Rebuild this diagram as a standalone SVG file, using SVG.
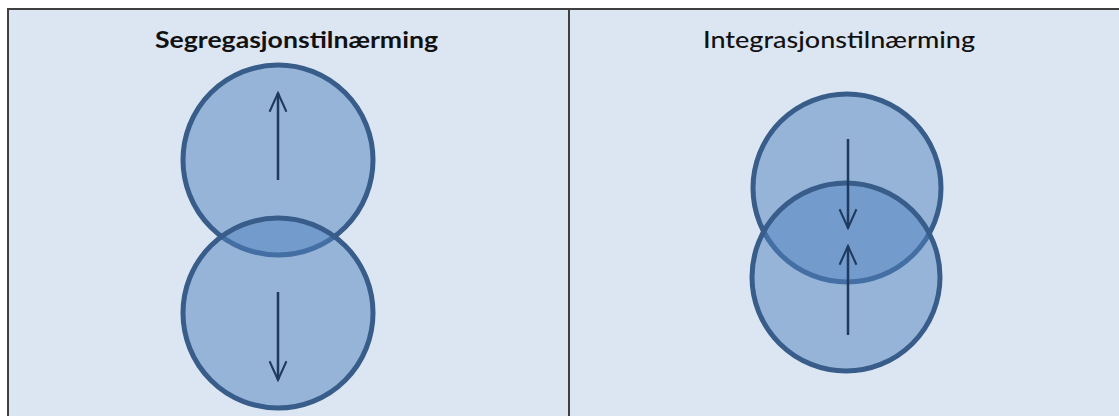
<svg xmlns="http://www.w3.org/2000/svg" width="1119" height="416" viewBox="0 0 1119 416">
  <defs>
    <style>
      .panel { fill: #dce6f2; stroke: #404040; stroke-width: 2; }
      .title { font-family: Lato, "Open Sans", "Liberation Sans", sans-serif; font-size: 23px; fill: #111; text-anchor: middle; }
      .bubble { fill: #4f81bd; fill-opacity: 0.5; stroke: #385d8a; stroke-width: 5; }
      .arrow { fill: none; stroke: #1f3a5f; stroke-width: 2.5; marker-end: url(#chevron); }
    </style>
    <marker id="chevron" viewBox="0 0 24 24" refX="22" refY="12" markerWidth="9" markerHeight="9" markerUnits="strokeWidth" orient="auto">
      <path d="M2,3 L22,12 L2,21" fill="none" stroke="#1f3a5f" stroke-width="2.2" stroke-linejoin="miter"/>
    </marker>
  </defs>

  <rect width="1119" height="416" fill="#ffffff"/>

  <!-- two side-by-side panels -->
  <g id="panel-left">
    <rect class="panel" x="8" y="9" width="561" height="420"/>
    <text class="title" x="296.5" y="48" font-weight="bold" textLength="283" lengthAdjust="spacingAndGlyphs">Segregasjonstilnærming</text>
  </g>
  <g id="panel-right">
    <rect class="panel" x="569" y="9" width="560" height="420"/>
    <text class="title" x="839" y="48" font-weight="500" textLength="272" lengthAdjust="spacingAndGlyphs">Integrasjonstilnærming</text>
  </g>

  <!-- segregation: circles pushed apart -->
  <g id="seg-top"><circle class="bubble" cx="278" cy="160" r="95"/></g>
  <g id="seg-bottom"><circle class="bubble" cx="278" cy="313" r="95"/></g>

  <!-- integration: circles drawn together -->
  <g id="int-top"><circle class="bubble" cx="847" cy="188" r="94"/></g>
  <g id="int-bottom"><circle class="bubble" cx="846" cy="277" r="94"/></g>

  <g id="connectors">
    <line class="arrow" x1="278" y1="180" x2="278" y2="93"/>
    <line class="arrow" x1="278" y1="292" x2="278" y2="380"/>
    <line class="arrow" x1="848" y1="139" x2="848" y2="228"/>
    <line class="arrow" x1="848" y1="335" x2="848" y2="246"/>
  </g>
</svg>
